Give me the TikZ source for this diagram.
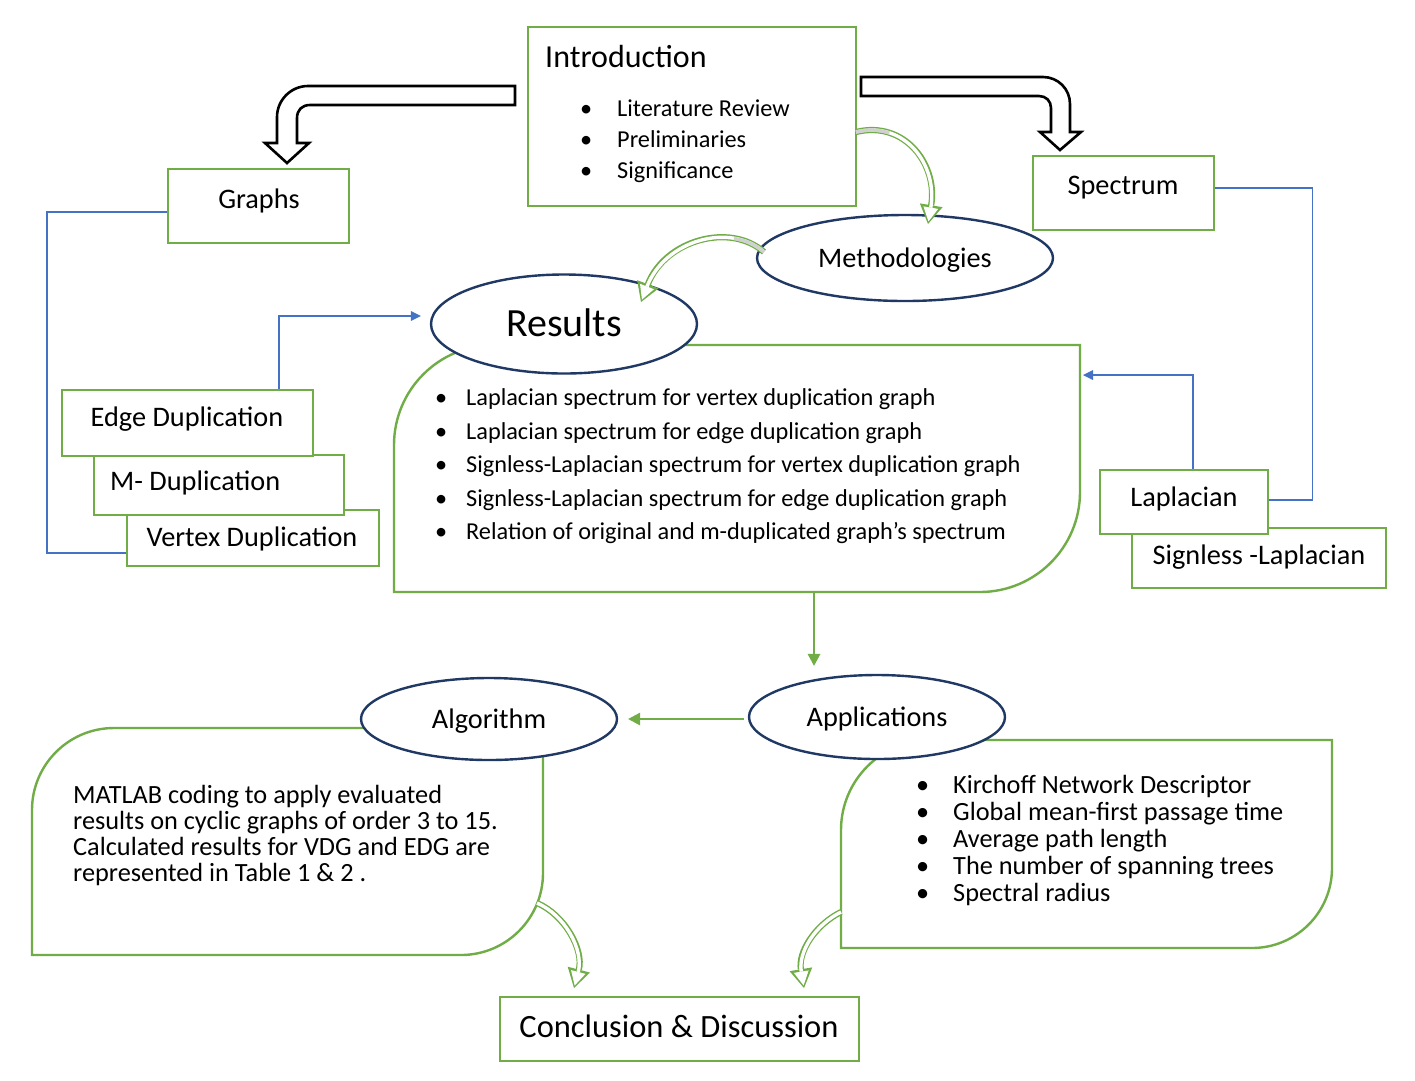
\documentclass[tikz,border=0pt]{standalone}
\usepackage{fontspec}
\setmainfont{Carlito}
\usetikzlibrary{shapes.geometric,arrows.meta}
\definecolor{gr}{HTML}{70AD47}
\definecolor{nv}{HTML}{1F3864}
\definecolor{bl}{HTML}{4472C4}
\definecolor{lg}{HTML}{D0D0D0}
\tikzset{
 gbox/.style={draw=gr, line width=2.4pt, fill=white, inner sep=0pt},
 gpath/.style={draw=gr, line width=2.4pt, fill=white},
 oval/.style={ellipse, draw=nv, line width=2.4pt, fill=white, inner sep=0pt},
 lbl/.style={font=\fontsize{28.3}{34}\selectfont, text height=20.5pt, text depth=2.4pt, inner sep=0pt},
 blk/.style={draw=black, line width=2.6pt, fill=white, line join=miter},
 bline/.style={draw=bl, line width=1.4pt},
 btip/.style={-{Triangle[length=10pt,width=10pt,line width=0pt]}},
 gline/.style={draw=gr, line width=2.2pt, -{Triangle[length=12pt,width=13pt,line width=0pt]}},
 gout/.style={draw=gr, line width=6.2pt, -{Triangle[length=19pt,width=23pt,line width=0pt]}},
 gin/.style={draw=white, line width=3.4pt, shorten >=2.6pt, -{Triangle[length=14pt,width=15pt,line width=0pt]}},
 gsh/.style={draw=lg, line width=3.4pt},
}
\newcommand\garrow[4]{%
 \draw[gout] #1 .. controls #2 and #3 .. #4;
 \draw[gin] #1 .. controls #2 and #3 .. #4;}
\begin{document}
\begin{tikzpicture}[x=1pt,y=-1pt]
\useasboundingbox (0,0) rectangle (1415,1080);

% ---------- top ----------
\node[gbox, minimum width=328pt, minimum height=179pt] (intro) at (692,116.5) {};
\node[font=\fontsize{32}{38}\selectfont, anchor=base west, inner sep=0pt] (introt) at (545,67) {Introduction};
\node[anchor=west, inner sep=0pt, font=\fontsize{24.3}{31}\selectfont] (introl) at (580,141)
 {\begin{tabular}{@{}p{37pt}@{}l@{}}\textbullet & Literature Review\\ \textbullet & Preliminaries\\ \textbullet & Significance\end{tabular}};

\node[gbox, minimum width=181pt, minimum height=74pt] (graphs) at (258.5,206) {};
\node[lbl] (graphst) at (259,199) {Graphs};
\node[gbox, minimum width=181pt, minimum height=74pt] (spec) at (1123.5,193) {};
\node[lbl] (spect) at (1123,185) {Spectrum};

% block arrows
\draw[blk] (515,86) -- (308,86) .. controls (291,86) and (277,100) .. (277,117) -- (277,143) -- (265,143) -- (287,163) -- (309,143) -- (297,143) -- (297,118) .. controls (297,110) and (302,105) .. (310,105) -- (515,105) -- cycle;
\draw[blk] (861,77) -- (1043,77) .. controls (1058,77) and (1070,89) .. (1070,104) -- (1070,132) -- (1081,132) -- (1060,150) -- (1040,132) -- (1051,132) -- (1051,108) .. controls (1051,101) and (1046,96) .. (1039,96) -- (861,96) -- cycle;

% ---------- duplication boxes ----------
\node[gbox, minimum width=252pt, minimum height=56pt] (vertex) at (253,538) {};
\node[lbl] (vertext) at (252,537) {Vertex Duplication};
\node[gbox, minimum width=250pt, minimum height=60pt] (mdup) at (219,485) {};
\node[lbl, anchor=west] (mdupt) at (110,481) {M- Duplication};
\node[gbox, minimum width=251pt, minimum height=66pt] (edge) at (187.5,423) {};
\node[lbl] (edget) at (187,417) {Edge Duplication};

% ---------- Laplacian boxes ----------
\node[gbox, minimum width=254pt, minimum height=60pt] (sless) at (1259,558) {};
\node[lbl] (slesst) at (1259,555) {Signless -Laplacian};
\node[gbox, minimum width=168pt, minimum height=64pt] (lap) at (1184,502) {};
\node[lbl] (lapt) at (1184,497) {Laplacian};

% ---------- Results ----------
\draw[gpath] (394,592) -- (394,445) .. controls (394,389.8) and (438.8,345) .. (494,345) -- (1080,345) -- (1080,492) .. controls (1080,547.2) and (1035.2,592) .. (980,592) -- cycle;
\coordinate (resbot) at (814,592);
\coordinate (resright) at (1083,375);
\node[anchor=west, inner sep=0pt, font=\fontsize{24.3}{33.5}\selectfont] (reslist) at (435,466)
 {\begin{tabular}{@{}p{31pt}@{}l@{}}
 \textbullet & Laplacian spectrum for vertex duplication graph\\
 \textbullet & Laplacian spectrum for edge duplication graph\\
 \textbullet & Signless-Laplacian spectrum for vertex duplication graph\\
 \textbullet & Signless-Laplacian spectrum for edge duplication graph\\
 \textbullet & Relation of original and m-duplicated graph’s spectrum
 \end{tabular}};
\node[oval, minimum width=266pt, minimum height=99pt, font=\fontsize{40}{48}\selectfont, text height=28pt, text depth=2.4pt] (res) at (564,324) {Results};
\node[oval, minimum width=296pt, minimum height=86pt, font=\fontsize{28.3}{34}\selectfont, text height=20.5pt, text depth=2.4pt] (meth) at (905,258) {Methodologies};

% ---------- Algorithm ----------
\draw[gpath] (32,955) -- (32,810) .. controls (32,764.7) and (68.7,728) .. (114,728) -- (543,728) -- (543,873) .. controls (543,918.3) and (506.3,955) .. (461,955) -- cycle;
\node[anchor=west, inner sep=0pt, font=\fontsize{26.3}{25.7}\selectfont] (algtext) at (73,837)
 {\begin{tabular}{@{}l@{}}MATLAB coding to apply evaluated\\ results on cyclic graphs of order 3 to 15.\\ Calculated results for VDG and EDG are\\ represented in Table 1 \& 2 .\end{tabular}};
\node[oval, minimum width=256pt, minimum height=82pt, font=\fontsize{28.3}{34}\selectfont, text height=20.5pt, text depth=2.4pt] (alg) at (489,719) {Algorithm};

% ---------- Applications ----------
\draw[gpath] (841,948) -- (841,830) .. controls (841,780.3) and (881.3,740) .. (931,740) -- (1332,740) -- (1332,868) .. controls (1332,912.2) and (1296.2,948) .. (1252,948) -- cycle;
\node[anchor=west, inner sep=0pt, font=\fontsize{26.3}{27}\selectfont] (applist) at (916,842)
 {\begin{tabular}{@{}p{37pt}@{}l@{}}
 \textbullet & Kirchoff Network Descriptor\\
 \textbullet & Global mean-first passage time\\
 \textbullet & Average path length\\
 \textbullet & The number of spanning trees\\
 \textbullet & Spectral radius
 \end{tabular}};
\node[oval, minimum width=256pt, minimum height=84pt, font=\fontsize{28.3}{34}\selectfont, text height=20.5pt, text depth=2.4pt] (apps) at (877,717) {Applications};

% ---------- Conclusion ----------
\node[gbox, minimum width=359pt, minimum height=64pt] (concl) at (679.5,1029) {};
\node[lbl, font=\fontsize{32.5}{39}\selectfont, text height=23.2pt] (conclt) at (679,1027) {Conclusion \& Discussion};

% ---------- blue connectors ----------
\draw[bline] ([yshift=-6pt]graphs.west) -| ([xshift=-79pt,yshift=-15pt]vertex.west) -- ([yshift=-15pt]vertex.west);
\draw[bline, btip] ([xshift=91.5pt]edge.north) |- ([xshift=-9pt,yshift=8pt]res.west);
\draw[bline] ([yshift=5pt]spec.east) -| ([xshift=43pt,yshift=2pt]lap.east) -- ([yshift=2pt]lap.east);
\draw[bline, btip] ([xshift=9pt]lap.north) |- (resright);

% ---------- green straight connectors ----------
\draw[gline] (resbot) -- ([xshift=-63pt,yshift=8pt]apps.north);
\draw[gline] ([xshift=-4pt,yshift=-2pt]apps.west) -- ([xshift=10pt]alg.east);

% ---------- curved green arrows ----------
\coordinate (ia) at (856,132);
\coordinate (ma) at (764,252);
\coordinate (aa) at (537,903);
\coordinate (pa) at (841,912);
\garrow{(ia)}{(905,120)}{(938,165)}{(928,224)}
\draw[gsh] (ia) .. controls (868.25,129) and (879.5,129.6) .. (889.3,133);
\garrow{(ma)}{(730,222)}{(665,240)}{(641,302)}
\draw[gsh] (ma) .. controls (755.5,244.5) and (745.1,240) .. (733.8,238.4);
\garrow{(aa)}{(565,915)}{(584,950)}{(574,988)}
\garrow{(pa)}{(815,925)}{(798,952)}{(804,988)}
\end{tikzpicture}
\end{document}
